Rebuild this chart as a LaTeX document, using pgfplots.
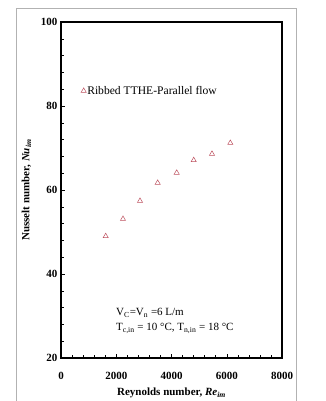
\documentclass[border=0pt]{standalone}
\usepackage{fontspec}
\setmainfont{Liberation Serif}
\usepackage{pgfplots}
\pgfplotsset{compat=1.18}
\definecolor{mk}{RGB}{190,80,95}
\begin{document}
\begin{tikzpicture}[x=1pt,y=1pt]
\useasboundingbox (0,0) rectangle (326,401);
\fill[white] (0,0) rectangle (326,401);
\draw[gray!60,line width=0.8pt] (16,393) rectangle (296,-5);
\begin{axis}[
  at={(61pt,43pt)}, anchor=south west,
  scale only axis, width=221pt, height=336pt,
  xmin=0, xmax=8000, ymin=20, ymax=100,
  xtick={0,2000,4000,6000,8000},
  ytick={20,40,60,80,100},
  minor x tick num=4, minor y tick num=4,
  xtick pos=bottom, ytick pos=left,
  tick align=inside,
  major tick length=4pt, minor tick length=3pt,
  axis line style={line width=1.5pt},
  tick style={black,line width=0.5pt},
  /pgf/number format/assume math mode=true,
  /pgf/number format/1000 sep={},
  ticklabel style={font=\bfseries\fontsize{11}{13}\selectfont},
  xticklabel style={yshift=-11pt},
  xlabel={\bfseries Reynolds number, \textit{Re}\textsubscript{\itshape im}},
  ylabel={\bfseries Nusselt number, \textit{Nu}\textsubscript{\itshape im}},
  label style={font=\fontsize{11}{13}\selectfont},
  xlabel style={yshift=-1pt},
  ylabel style={yshift=3pt},
  legend style={at={(axis cs:720,83.6)}, anchor=west, draw=none, fill=none,
    font=\fontsize{11.6}{13}\selectfont, inner sep=0pt,
    nodes={inner sep=1pt}},
  legend image code/.code={\draw[mark repeat=2,mark phase=2,#1] plot coordinates {(0pt,0pt)(3pt,0pt)(6pt,0pt)};},
]
\addplot[only marks, mark=triangle, mark size=3pt, mk, mark options={line width=0.5pt}] coordinates {
(1618,49.0) (2244,53.1) (2860,57.4) (3500,61.7) (4188,64.1) (4804,67.1) (5466,68.6) (6129,71.2)
};
\addlegendentry{Ribbed TTHE-Parallel flow}
\node[anchor=west,font=\fontsize{11}{13}\selectfont,inner sep=0pt] at (axis cs:1990,30.7) {V\textsubscript{C}=V\textsubscript{n} =6 L/m};
\node[anchor=west,font=\fontsize{11}{13}\selectfont,inner sep=0pt] at (axis cs:1990,27.1) {T\textsubscript{c,in} = 10 °C, T\textsubscript{n,in} = 18 °C};
\end{axis}
\end{tikzpicture}
\end{document}
